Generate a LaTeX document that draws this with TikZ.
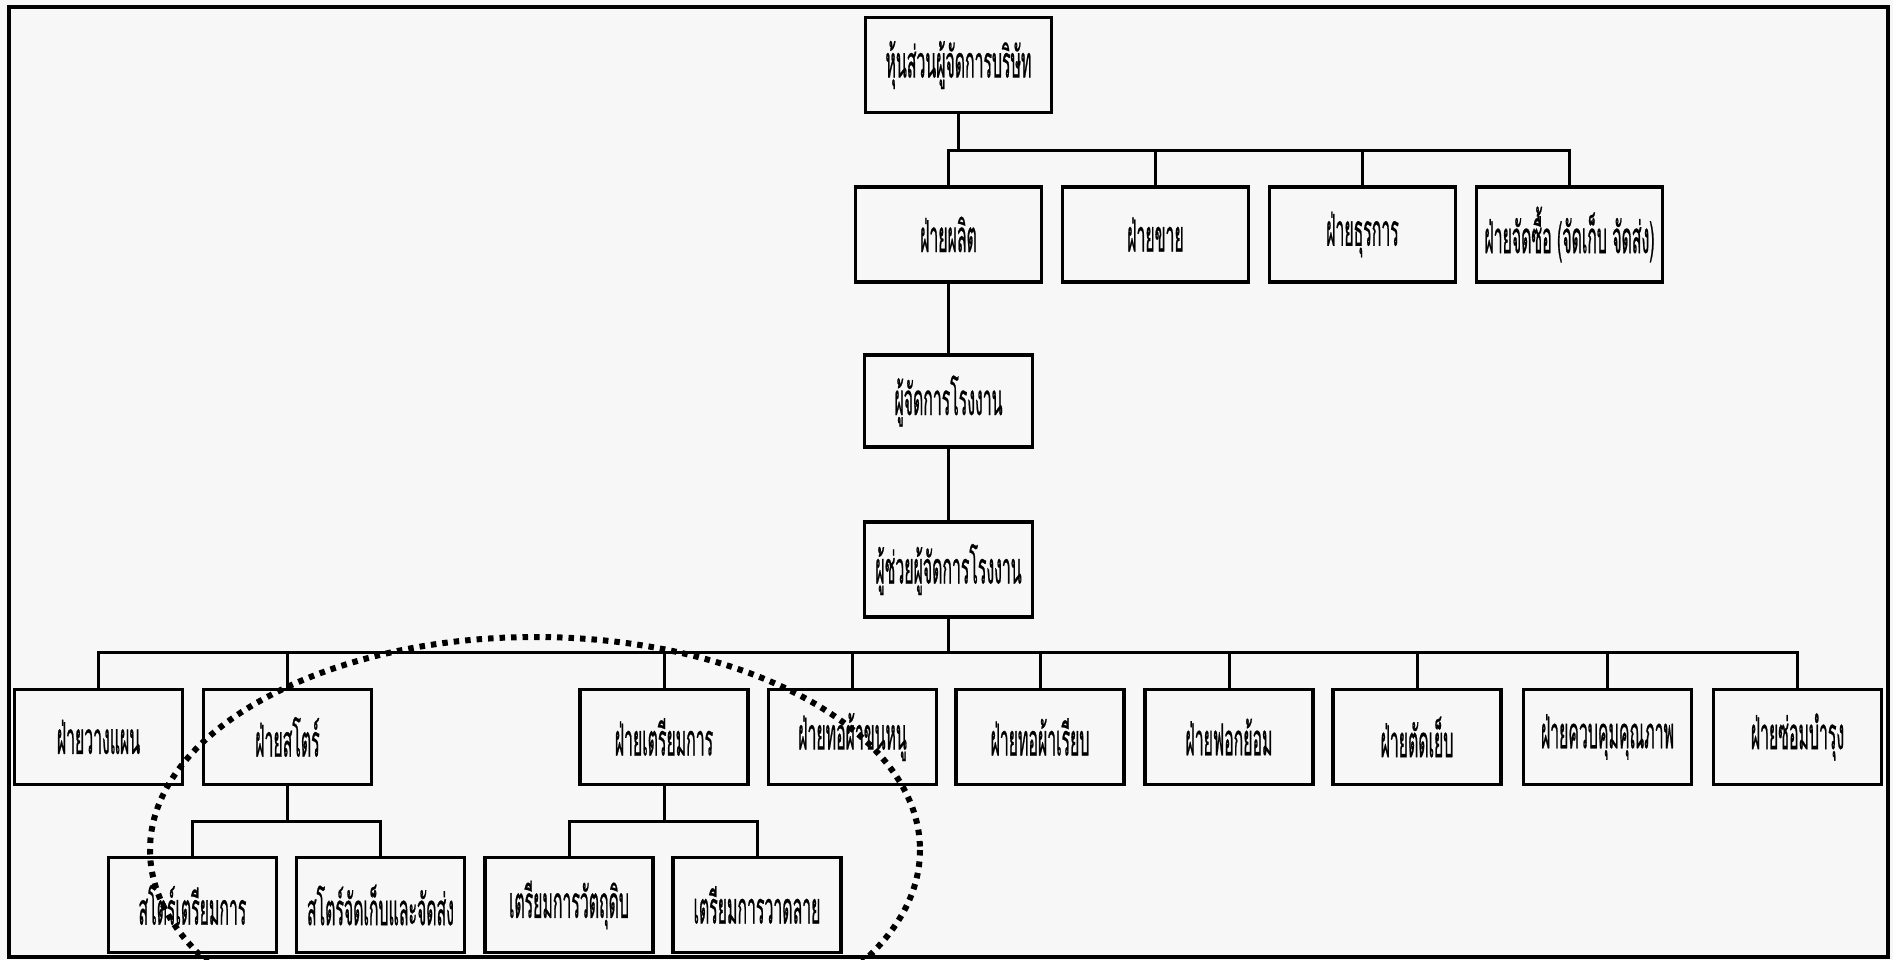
\documentclass[tikz,border=0pt]{standalone}
\usepackage{fontspec}
\newfontfamily\thaifont[Script=Thai,FakeStretch=0.36,FakeBold=0.5]{Loma}
\begin{document}
\begin{tikzpicture}[x=1pt,y=-1pt,
  orgbox/.style={draw=black, line width=3.3pt, inner sep=0pt, align=center,
    font=\thaifont\fontsize{44}{50}\selectfont},
  wbox/.style={orgbox, minimum width=186pt, minimum height=95pt},
  nbox/.style={orgbox, minimum width=168pt, minimum height=95pt},
  link/.style={draw=black, line width=3pt},
  ring/.style={draw=black, line width=6pt, dash pattern=on 5.5pt off 6pt}]
\useasboundingbox (0,0) rectangle (1893,960);
\fill[black!3] (0,0) rectangle (1893,960);
\draw[line width=3.3pt] (9,7) rectangle (1888,957);

% top
\node[wbox] (top) at (958.5,65) {หุ้นส่วนผู้จัดการบริษัท};
% level 1
\node[wbox] (prod)  at (948.5,234.5) {ฝ่ายผลิต};
\node[wbox] (sales) at (1155.5,234.5) {ฝ่ายขาย};
\node[wbox] (admin) at (1362.5,234.5) {ฝ่ายธุรการ};
\node[wbox] (purch) at (1569.5,234.5) {ฝ่ายจัดซื้อ (จัดเก็บ จัดส่ง)};
% managers
\node[nbox, minimum height=92pt] (mgr) at (948.5,401) {ผู้จัดการโรงงาน};
\node[nbox] (asst) at (948.5,569.5) {ผู้ช่วยผู้จัดการโรงงาน};
% level 3
\node[nbox] (plan)  at (98.5,737) {ฝ่ายวางแผน};
\node[nbox] (store) at (287.5,737) {ฝ่ายสโตร์};
\node[nbox] (prep)  at (664,737) {ฝ่ายเตรียมการ};
\node[nbox] (towel) at (852.5,737) {ฝ่ายทอผ้าขนหนู};
\node[nbox] (plain) at (1040,737) {ฝ่ายทอผ้าเรียบ};
\node[nbox] (dye)   at (1229,737) {ฝ่ายฟอกย้อม};
\node[nbox] (sew)   at (1417,737) {ฝ่ายตัดเย็บ};
\node[nbox] (qc)    at (1607.5,737) {ฝ่ายควบคุมคุณภาพ};
\node[nbox] (maint) at (1797.5,737) {ฝ่ายซ่อมบำรุง};
% level 4
\node[nbox] (s1) at (192.5,905) {สโตร์เตรียมการ};
\node[nbox] (s2) at (380.5,905) {สโตร์จัดเก็บและจัดส่ง};
\node[nbox] (p1) at (569,905) {เตรียมการวัตถุดิบ};
\node[nbox] (p2) at (757,905) {เตรียมการวาดลาย};

% bus lines
\coordinate (bus1) at (0,151);
\coordinate (bus3) at (0,652);
\coordinate (bus4) at (0,821);

\draw[link] (top.south) -- (top.south |- bus1);
\draw[link] (prod.north) -- (prod.north |- bus1) -- (purch.north |- bus1) -- (purch.north);
\foreach \n in {sales,admin} \draw[link] (\n.north) -- (\n.north |- bus1);
\draw[link] (prod.south) -- (mgr.north);
\draw[link] (mgr.south) -- (asst.north);
\draw[link] (asst.south) -- (asst.south |- bus3);
\draw[link] (plan.north) -- (plan.north |- bus3) -- (maint.north |- bus3) -- (maint.north);
\foreach \n in {store,prep,towel,plain,dye,sew,qc} \draw[link] (\n.north) -- (\n.north |- bus3);
\draw[link] (store.south) -- (store.south |- bus4);
\draw[link] (s1.north) -- (s1.north |- bus4) -- (s2.north |- bus4) -- (s2.north);
\draw[link] (prep.south) -- (prep.south |- bus4);
\draw[link] (p1.north) -- (p1.north |- bus4) -- (p2.north |- bus4) -- (p2.north);

% dotted ring
\begin{scope}
\clip (0,0) rectangle (1893,960);
\draw[ring] (535,850) ellipse [x radius=385, y radius=213];
\end{scope}
\end{tikzpicture}
\end{document}
